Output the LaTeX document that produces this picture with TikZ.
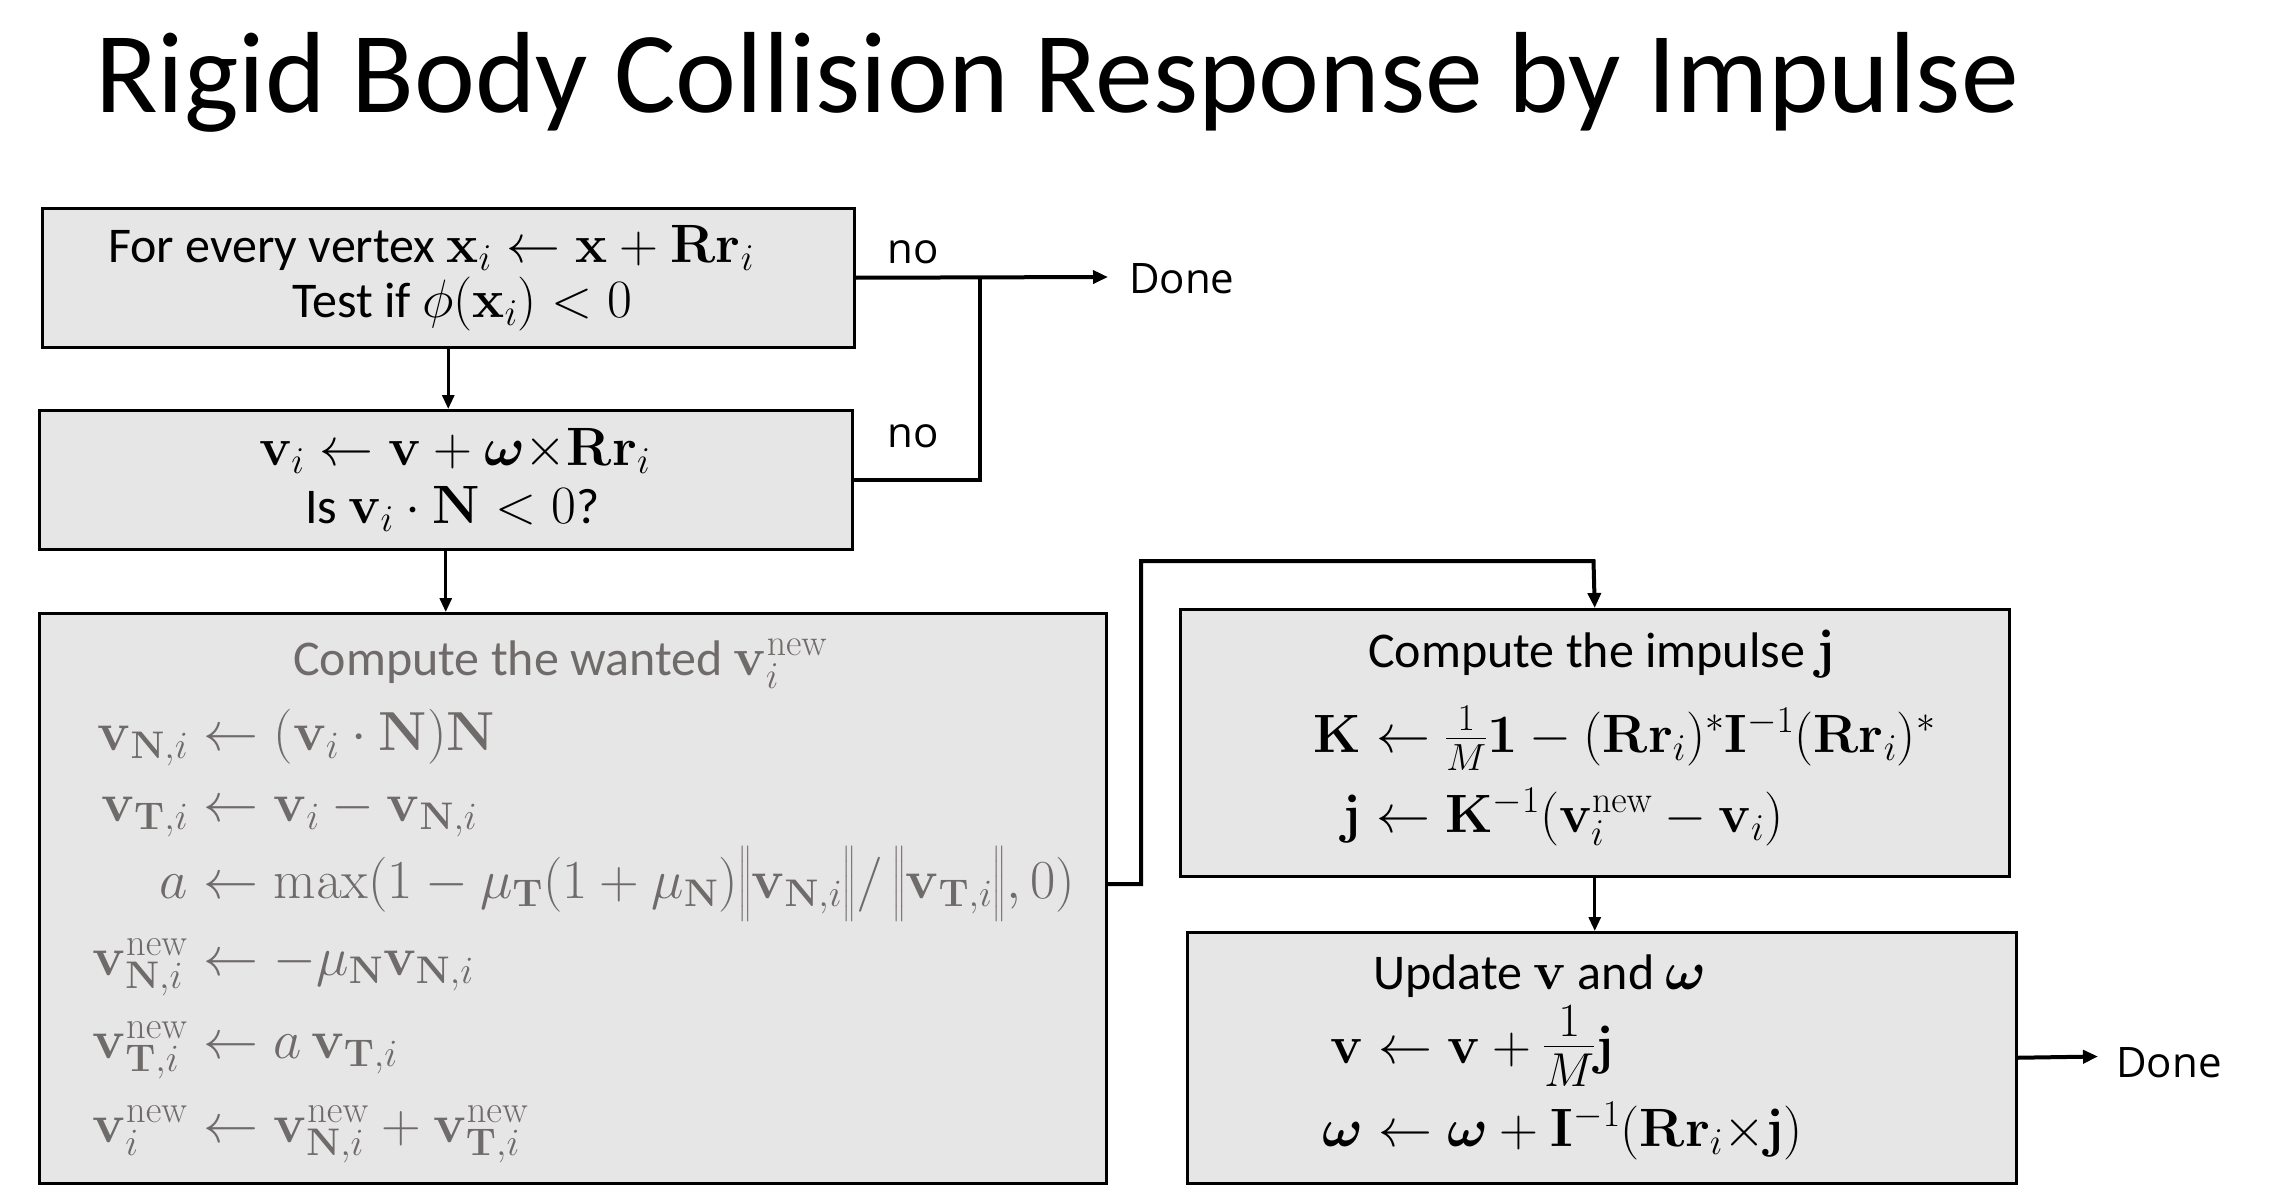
\RequirePackage{fix-cm}
\documentclass[tikz,border=0pt]{standalone}
\usepackage{amsmath,bm}
\usepackage[no-math]{fontspec}
\setmainfont{Carlito}
\newfontfamily\labfont{Open Sans}
\usetikzlibrary{arrows.meta}
\definecolor{boxfill}{RGB}{231,230,230}
\definecolor{txtgray}{RGB}{112,107,107}
\newcommand{\mth}[1]{{\fontsize{54}{60}\selectfont$#1$}}
\tikzset{
  box/.style={draw=black, fill=boxfill, line width=2.5pt, inner sep=0pt, anchor=north west},
  txt/.style={anchor=base west, inner sep=0pt, font=\fontsize{50}{60}\selectfont},
  mtxt/.style={anchor=base west, inner sep=0pt, font=\fontsize{54}{60}\selectfont},
  graytxt/.style={txt, text=txtgray},
  graymath/.style={anchor=base west, inner sep=0pt, font=\fontsize{55}{60}\selectfont, text=txtgray},
  lab/.style={anchor=base west, inner sep=0pt, font=\labfont\fontsize{42}{50}\selectfont},
  conn/.style={line width=4pt},
  connarr/.style={line width=4pt, -{Triangle[length=15pt,width=13pt]}},
  arr/.style={line width=3pt, -{Triangle[length=14pt,width=12pt]}},
}
\begin{document}
\begin{tikzpicture}[x=1pt,y=-1pt]
\useasboundingbox (0,0) rectangle (2272,1204);
% title
\node[anchor=base west, inner sep=0pt, font=\fontsize{115.4}{130}\selectfont] (title) at (95,113) {Rigid Body Collision Response by Impulse};
% boxes
\node[box, minimum width=812pt, minimum height=139pt] (b1) at (41,207) {};
\node[box, minimum width=813pt, minimum height=139pt] (b2) at (38,409) {};
\node[box, minimum width=1067pt, minimum height=570pt] (b3) at (38,612) {};
\node[box, minimum width=829pt, minimum height=267pt] (b4) at (1179,608) {};
\node[box, minimum width=829pt, minimum height=251pt] (b5) at (1186,931) {};
% box 1 text
\node[txt] (t11) at (108,262) {For every vertex \mth{\mathbf{x}_i\leftarrow\mathbf{x}+\mathbf{R}\mathbf{r}_i}};
\node[txt] (t12) at (292,317) {Test if \mth{\phi(\mathbf{x}_i)<0}};
% box 2 text
\node[mtxt] (t21) at (259,465) {$\mathbf{v}_i\leftarrow\mathbf{v}+\boldsymbol{\omega}{\times}\mathbf{R}\mathbf{r}_i$};
\node[txt] (t22) at (305,523) {Is \mth{\mathbf{v}_i\cdot\mathbf{N}<0}?};
% box 3 text
\node[graytxt] (t30) at (293,675) {Compute the wanted \mth{\mathbf{v}_i^{\mathrm{new}}}};
\node[graymath] (t31) at (188,750) {$\llap{$\mathbf{v}_{\mathbf{N},i}$}\leftarrow(\mathbf{v}_i\cdot\mathbf{N})\mathbf{N}$};
\node[graymath] (t32) at (188,821) {$\llap{$\mathbf{v}_{\mathbf{T},i}$}\leftarrow\mathbf{v}_i-\mathbf{v}_{\mathbf{N},i}$};
\node[graymath] (t33) at (188,898) {$\llap{$a$}\leftarrow\max(1-\mu_{\mathbf{T}}(1+\mu_{\mathbf{N}})\bigl\|\mathbf{v}_{\mathbf{N},i}\bigr\|/\,\bigl\|\mathbf{v}_{\mathbf{T},i}\bigr\|,0)$};
\node[graymath] (t34) at (188,975) {$\llap{$\mathbf{v}^{\mathrm{new}}_{\mathbf{N},i}$}\leftarrow-\mu_{\mathbf{N}}\mathbf{v}_{\mathbf{N},i}$};
\node[graymath] (t35) at (188,1058) {$\llap{$\mathbf{v}^{\mathrm{new}}_{\mathbf{T},i}$}\leftarrow a\,\mathbf{v}_{\mathbf{T},i}$};
\node[graymath] (t36) at (188,1142) {$\llap{$\mathbf{v}^{\mathrm{new}}_{i}$}\leftarrow\mathbf{v}^{\mathrm{new}}_{\mathbf{N},i}+\mathbf{v}^{\mathrm{new}}_{\mathbf{T},i}$};
% box 4 text
\node[txt] (t40) at (1368,667) {Compute the impulse \mth{\mathbf{j}}};
\node[mtxt] (t41) at (1361,752) {$\llap{$\mathbf{K}$}\leftarrow\tfrac{1}{M}\mathbf{1}-(\mathbf{R}\mathbf{r}_i)^*\mathbf{I}^{-1}(\mathbf{R}\mathbf{r}_i)^*$};
\node[mtxt] (t42) at (1361,832) {$\llap{$\mathbf{j}$}\leftarrow\mathbf{K}^{-1}(\mathbf{v}_i^{\mathrm{new}}-\mathbf{v}_i)$};
% box 5 text
\node[txt] (t50) at (1373,989) {Update \mth{\mathbf{v}} and \mth{\boldsymbol{\omega}}};
\node[mtxt] (t51) at (1363,1063) {$\llap{$\mathbf{v}$}\leftarrow\mathbf{v}+\text{\fontsize{68}{70}\selectfont$\tfrac{1}{M}$}\mathbf{j}$};
\node[mtxt] (t52) at (1363,1146) {$\llap{$\boldsymbol{\omega}$}\leftarrow\boldsymbol{\omega}+\mathbf{I}^{-1}(\mathbf{R}\mathbf{r}_i{\times}\mathbf{j})$};
% labels
\node[lab] (no1) at (887,263) {no};
\node[lab] (no2) at (887,447) {no};
\node[lab] (done1) at (1129,293) {Done};
\node[lab] (done2) at (2116,1077) {Done};
% coordinates
\coordinate (d1) at (1108,277);
\coordinate (j1) at (980,277);
\coordinate (c1) at (1141,884);
\coordinate (c2) at (1593.5,561);
\coordinate (d2) at (2098,1056.5);
% connectors
\draw[arr] (b1.south) -- (b1.south |- b2.north);
\draw[arr] (b2.south) -- (b2.south |- b3.north);
\draw[connarr] (b1.east) -- (d1);
\draw[conn] (b2.east) -| (j1);
\draw[connarr] (b3.east |- c1) -- (c1) |- (c2) -- (b4.north);
\draw[arr] (b4.south) -- (b4.south |- b5.north);
\draw[connarr] (b5.east) -- (d2);
\end{tikzpicture}
\end{document}
